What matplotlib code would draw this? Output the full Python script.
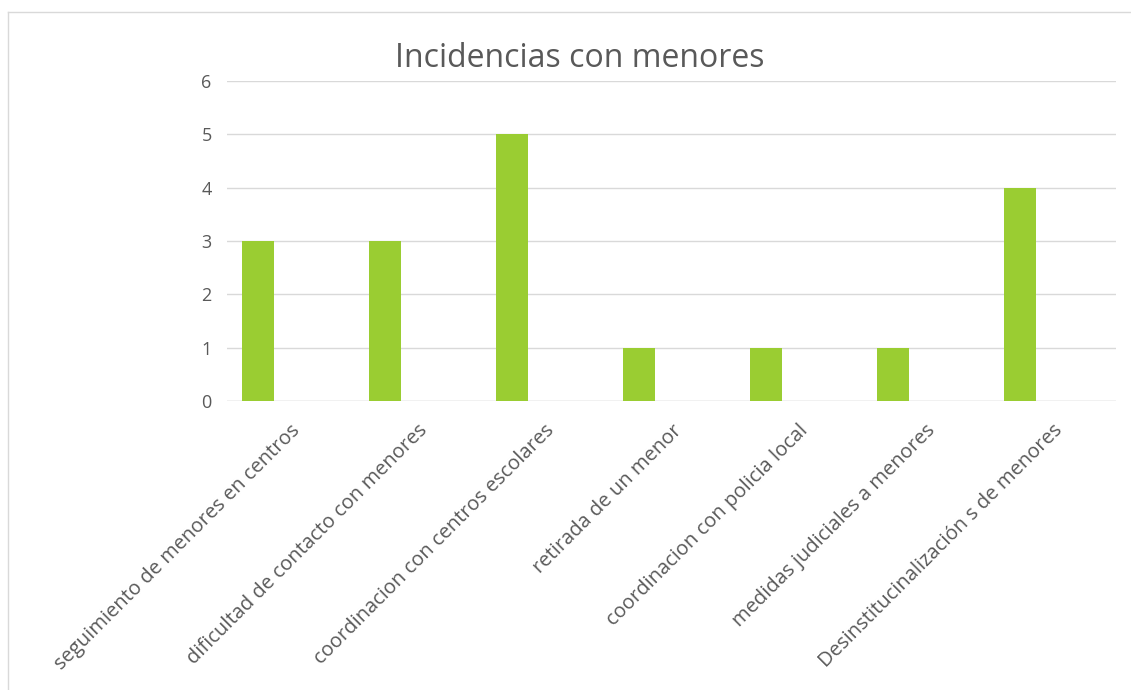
import matplotlib
matplotlib.use("Agg")
import matplotlib.pyplot as plt
from matplotlib.lines import Line2D

categories = [
    "seguimiento de menores en centros",
    "dificultad de contacto con menores",
    "coordinacion con centros escolares",
    "retirada de un menor",
    "coordinacion con policia local",
    "medidas judiciales a menores",
    "Desinstitucinalización s de menores",
]
values = [3, 3, 5, 1, 1, 1, 4]
yticks = [0, 1, 2, 3, 4, 5, 6]

plt.rcParams['font.family'] = ['Open Sans', 'DejaVu Sans']
txt = '#595959'

fig = plt.figure(figsize=(11.31, 6.9), dpi=100)
ax = fig.add_axes([0.2007, 0.4188, 0.786, 0.4638])
x = list(range(len(categories)))
bw = 0.252
ax.bar([i - bw for i in x], values, width=bw, color='#9ACD32', zorder=3)
ax.set_xlim(-0.5, len(categories) - 0.5)
ax.set_ylim(0, 6)
ax.set_yticks(yticks)
ax.set_yticklabels([str(v) for v in yticks])
ax.set_xticks(x)
ax.set_xticklabels(categories, rotation=45, ha='right', rotation_mode='anchor')
for s in ax.spines.values():
    s.set_visible(False)
ax.grid(axis='y', color='#d9d9d9', linewidth=1.0, zorder=0)
ax.axhline(0, color='#d9d9d9', linewidth=1.0, zorder=1)
ax.tick_params(axis='both', length=0, labelcolor=txt)
ax.tick_params(axis='y', pad=11, labelsize=13)
ax.tick_params(axis='x', pad=14, labelsize=14.5)
fig.text(0.513, 0.915, "Incidencias con menores", fontsize=23, color=txt,
         ha='center', va='center')

fig.add_artist(Line2D([0.007, 0.007], [0.0, 0.9826], transform=fig.transFigure, color='#d9d9d9', lw=1))
fig.add_artist(Line2D([0.007, 1.0], [0.9826, 0.9826], transform=fig.transFigure, color='#d9d9d9', lw=1))

fig.savefig("out.png", dpi=100)
